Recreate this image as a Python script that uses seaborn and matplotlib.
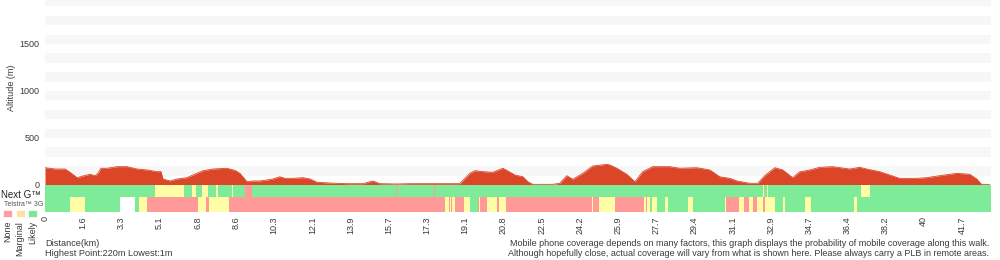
import matplotlib
matplotlib.use("Agg")
import matplotlib.pyplot as plt
from matplotlib.patches import Rectangle
import seaborn as sns
import numpy as np

# elevation profile (km, m)
dist = [0, 0.46, 0.91, 1.14, 1.46, 1.73, 2.05, 2.28, 2.41, 2.55, 2.82, 3.28, 3.73, 4.19,
        4.64, 5.10, 5.28, 5.37, 5.69, 6.01, 6.46, 6.73, 7.19, 7.64, 8.28, 8.65, 8.87,
        9.19, 9.46, 9.78, 10.10, 10.37, 10.69, 10.92, 11.28, 11.74, 12.06, 12.38, 12.97,
        13.74, 14.47, 14.92, 15.24, 16.02, 16.61, 17.29, 17.97, 18.88, 19.11, 19.34,
        19.57, 19.93, 20.38, 20.84, 21.07, 21.39, 21.75, 21.98, 22.20, 23.11, 23.43,
        23.75, 24.02, 24.48, 24.93, 25.57, 25.71, 26.03, 26.48, 26.85, 27.21, 27.66,
        28.44, 28.89, 29.67, 30.26, 30.71, 31.17, 31.49, 32.08, 32.44, 32.76, 33.22,
        33.58, 34.03, 34.35, 34.81, 35.26, 35.85, 36.63, 37.08, 37.40, 37.99, 38.45,
        38.90, 39.68, 40.13, 40.72, 41.50, 42.09, 42.41, 42.63, 43.00]
alt = [184, 170, 170, 135, 78, 96, 114, 99, 124, 178, 178, 195, 195, 170,
       160, 142, 142, 64, 43, 64, 78, 106, 152, 170, 178, 155, 124,
       35, 43, 43, 53, 64, 88, 71, 71, 78, 64, 29, 21,
       14, 14, 43, 14, 11, 14, 14, 14, 14, 71, 124,
       152, 142, 135, 178, 149, 106, 88, 35, 7, 7, 18,
       99, 61, 124, 202, 220, 213, 178, 114, 35, 142, 195,
       195, 178, 184, 160, 88, 71, 43, 18, 18, 99, 184,
       160, 78, 140, 160, 188, 195, 170, 188, 170, 142, 106,
       71, 71, 78, 99, 124, 114, 64, 7, 7]

# coverage: segment start (km) and status (0 none, 1 marginal, 2 likely, -1 no data)
nextg_start = [0, 5.01, 6.32, 6.69, 6.87, 7.14, 7.42, 7.78, 7.87, 8.51, 8.58, 9.10, 9.42,
               15.97, 16.02, 17.70, 17.75, 32.67, 32.71, 32.85, 32.90, 37.13, 37.54]
nextg_status = [2, 1, 2, 1, 2, 1, 2, 1, 2, 1, 2, 0, 2,
                0, 2, 0, 2, 1, 2, 1, 2, 1, 2]
g3_start = [0, 1.14, 1.82, 3.41, 4.10, 4.28, 4.64, 6.96, 7.33, 7.46, 8.37, 18.20, 18.38,
            18.43, 18.47, 18.52, 18.66, 19.06, 19.34, 19.70, 19.75, 19.79, 20.11, 20.57,
            20.66, 20.98, 24.89, 24.93, 25.21, 25.94, 27.25, 27.35, 27.39, 27.53, 27.62,
            27.85, 28.21, 28.35, 29.26, 29.48, 30.94, 30.99, 31.58, 31.80, 32.03, 32.21,
            32.40, 32.67, 32.76, 33.22, 33.58, 33.67, 34.58, 34.85, 36.81, 36.95]
g3_status = [2, 1, 2, -1, 2, 1, 0, 1, 0, 1, 0, 1, 0,
             1, 0, 1, 0, 1, 2, 0, 1, 0, 1, 0,
             1, 0, 1, 0, 1, 0, 1, 0, 1, 2, 1,
             2, 1, 2, 1, 2, 1, 0, 1, 0, 1, 0,
             1, 0, 1, 2, 1, 2, 1, 2, 1, 2]
total_km = 43.06

xtick_labels = ["0", "1.6", "3.3", "5.1", "6.8", "8.6", "10.3", "12.1", "13.9", "15.7",
                "17.3", "19.1", "20.8", "22.5", "24.2", "25.9", "27.7", "29.4", "31.1",
                "32.9", "34.7", "36.4", "38.2", "40", "41.7"]
ytick_vals = [0, 500, 1000, 1500]

cov_colors = {0: "#ff9a99", 1: "#fffda6", 2: "#7deb98", -1: "#ffffff"}
legend_colors = ["#ff9e9e", "#ffdfa8", "#7ee698"]
legend_names = ["None", "Marginal", "Likely"]
fill_col = "#da4627"
txt = "#3a3a3a"

sns.set_theme(style="white")
plt.rcParams["font.family"] = ["Liberation Sans", "DejaVu Sans"]

W, H = 1000, 260
fig = plt.figure(figsize=(10, 2.6), dpi=100)

def fx(px):
    return px / W

def fy(py):
    return 1 - py / H

# altitude panel
ax = fig.add_axes([fx(45), fy(185), fx(946), 185 / H])
ax.set_xlim(0, total_km)
ax.set_ylim(0, 1968)
for b in range(100, 2000, 200):
    ax.axhspan(b, b + 100, color="#f7f7f7", lw=0, zorder=0)
ax.fill_between(dist, alt, 0, color=fill_col, lw=0, zorder=2)
sns.lineplot(x=dist, y=alt, ax=ax, color=fill_col, lw=0.6, zorder=3)
ax.set_xticks([])
ax.set_yticks(ytick_vals)
ax.set_yticklabels([str(v) for v in ytick_vals], fontsize=6.5, color=txt)
ax.tick_params(axis="y", length=0, pad=4)
ax.set_xlabel("")
ax.set_ylabel("")
for s in ax.spines.values():
    s.set_visible(False)

# coverage panel
cax = fig.add_axes([fx(45), fy(212), fx(946), 27 / H])
cax.set_xlim(0, total_km)
cax.set_ylim(0, 27)

def draw_row(starts, status, y0, h):
    ends = starts[1:] + [total_km]
    widths = [e - s for s, e in zip(starts, ends)]
    cols = [cov_colors[v] for v in status]
    cax.barh([y0] * len(starts), widths, left=starts, height=h, align="edge",
             color=cols, lw=0)

draw_row(g3_start, g3_status, 0, 15)
draw_row(nextg_start, nextg_status, 15, 12)
step = 41.74 / 24
cax.set_xticks([i * step for i in range(len(xtick_labels))])
cax.set_xticklabels(xtick_labels, rotation=90, fontsize=6.5, color=txt, va="top")
cax.set_yticks([])
cax.tick_params(axis="x", length=0, pad=3)
for s in cax.spines.values():
    s.set_visible(False)

# left labels
fig.text(fx(12), fy(88), "Altitude (m)", rotation=90, ha="center", va="center",
         fontsize=6.5, color=txt)
fig.text(fx(1), fy(194.5), "Next G\u2122", ha="left", va="center", fontsize=7.0, color="#222222")
fig.text(fx(4), fy(204.5), "Telstra\u2122 3G", ha="left", va="center", fontsize=5, color="#555555")
for i, (c, n) in enumerate(zip(legend_colors, legend_names)):
    x0 = 3 + i * 12.5
    fig.patches.append(Rectangle((fx(x0), fy(217)), fx(9), 7.5 / H, transform=fig.transFigure,
                                 facecolor=c, edgecolor="#ffffff", lw=0.5))
    fig.text(fx(x0 + 4.5), fy(221), n, rotation=90, ha="center", va="top",
             fontsize=6.5, color=txt)

# bottom texts
fig.text(fx(45), fy(243), "Distance(km)", ha="left", va="center", fontsize=6.6, color=txt)
fig.text(fx(45), fy(254), "Highest Point:220m Lowest:1m", ha="left", va="center",
         fontsize=6.6, color=txt)
fig.text(fx(989), fy(243), "Mobile phone coverage depends on many factors, this graph displays "
         "the probability of mobile coverage along this walk.", ha="right", va="center",
         fontsize=6.5, color=txt)
fig.text(fx(989), fy(254), "Although hopefully close, actual coverage will vary from what is "
         "shown here. Please always carry a PLB in remote areas.", ha="right", va="center",
         fontsize=6.5, color=txt)

fig.savefig("out.png", dpi=100, facecolor="white")
